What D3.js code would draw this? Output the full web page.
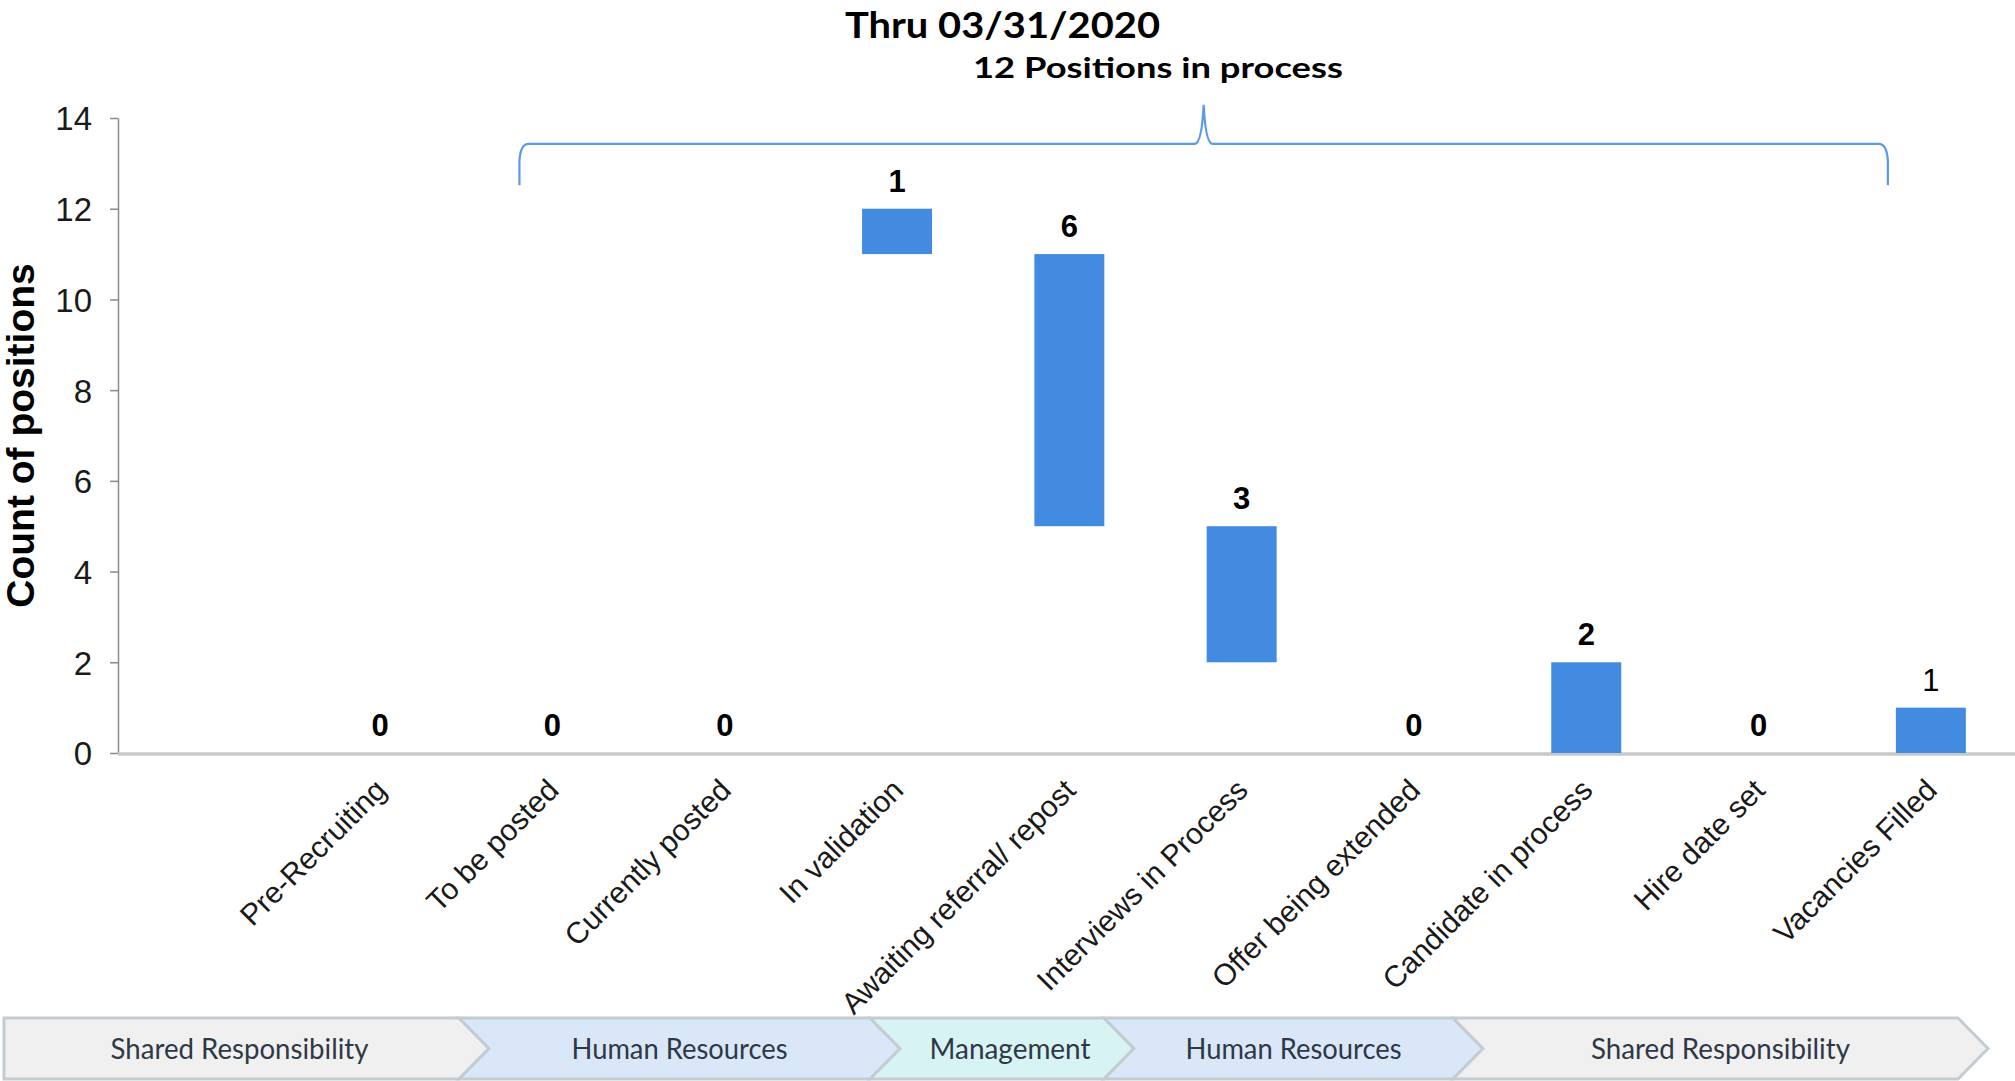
<!DOCTYPE html>
<html>
<head>
<meta charset="utf-8">
<script src="https://cdn.jsdelivr.net/npm/d3@7"></script>
<style>
  html, body { margin: 0; padding: 0; background: #ffffff; }
  svg { display: block; }
</style>
</head>
<body>
<script>
// Recruiting pipeline stages and the count of positions at each stage
const stages = [
  "Pre-Recruiting",
  "To be posted",
  "Currently posted",
  "In validation",
  "Awaiting referral/ repost",
  "Interviews in Process",
  "Offer being extended",
  "Candidate in process",
  "Hire date set",
  "Vacancies Filled"
];
const counts = [0, 0, 0, 1, 6, 3, 0, 2, 0, 1];
// Invisible base under each floating bar
const bases = [0, 0, 0, 11, 5, 2, 0, 0, 0, 0];
const yTicks = [0, 2, 4, 6, 8, 10, 12, 14];

// Who owns each part of the process (left to right)
const owners = ["Shared Responsibility", "Human Resources", "Management", "Human Resources", "Shared Responsibility"];

const titleText = "Thru 03/31/2020";
const subtitleText = "12 Positions in process";
const yLabelText = "Count of positions";

// ---- layout ----
const W = 2015, H = 1081;
const plot = { left: 118, right: 2015, top: 118, bottom: 753 };
const barColor = "#428be0";
const braceColor = "#5b9ae8";

const svg = d3.select("body").append("svg")
  .attr("width", W).attr("height", H)
  .attr("viewBox", `0 0 ${W} ${H}`);

const x = d3.scaleBand()
  .domain(stages)
  .range([294, 2017])
  .paddingInner(0.594)
  .paddingOuter(0.297);

const y = d3.scaleLinear()
  .domain([0, 14])
  .range([plot.bottom, plot.top]);

// ---- y axis ----
const yAxis = svg.append("g")
  .attr("transform", `translate(${plot.left},0)`)
  .call(d3.axisLeft(y).tickValues(yTicks).tickSize(8).tickSizeOuter(0).tickPadding(18));
yAxis.select(".domain").attr("stroke", "#8a8a8a").attr("stroke-width", 1.5);
yAxis.selectAll(".tick line").attr("stroke", "#8a8a8a").attr("stroke-width", 1.5);
yAxis.selectAll(".tick text")
  .attr("font-family", "'Liberation Sans', Arial, sans-serif")
  .attr("font-size", 33)
  .attr("fill", "#1a1a1a")
  .attr("dy", "0.36em");

// y axis title
svg.append("text")
  .attr("transform", `translate(34,${(263 + 608) / 2}) rotate(-90)`)
  .attr("text-anchor", "middle")
  .attr("font-family", "'Liberation Sans', Arial, sans-serif")
  .attr("font-weight", "bold")
  .attr("font-size", 39)
  .attr("fill", "#000")
  .text(yLabelText);

// ---- x axis baseline ----
svg.append("line")
  .attr("x1", plot.left).attr("x2", plot.right)
  .attr("y1", y(0) + 1).attr("y2", y(0) + 1)
  .attr("stroke", "#c8c8c8").attr("stroke-width", 3.5);

// ---- floating bars ----
const rows = stages.map((s, i) => ({ stage: s, count: counts[i], base: bases[i] }));

svg.append("g").selectAll("rect")
  .data(rows.filter(d => d.count > 0))
  .join("rect")
  .attr("x", d => x(d.stage))
  .attr("width", x.bandwidth())
  .attr("y", d => y(d.base + d.count))
  .attr("height", d => y(d.base) - y(d.base + d.count))
  .attr("fill", barColor);

// value labels
svg.append("g").selectAll("text")
  .data(rows)
  .join("text")
  .attr("x", d => x(d.stage) + x.bandwidth() / 2)
  .attr("y", d => y(d.base + d.count) - 17)
  .attr("text-anchor", "middle")
  .attr("font-family", "'Liberation Sans', Arial, sans-serif")
  .attr("font-size", 31)
  .attr("font-weight", (d, i) => i === rows.length - 1 ? "normal" : "bold")
  .attr("fill", "#000")
  .text(d => d.count);

// category labels, rotated
svg.append("g").selectAll("text")
  .data(stages)
  .join("text")
  .attr("transform", d => `translate(${x(d) + x.bandwidth() / 2 + 8},792) rotate(-45)`)
  .attr("text-anchor", "end")
  .attr("font-family", "'Liberation Sans', Arial, sans-serif")
  .attr("font-size", 30)
  .attr("fill", "#1a1a1a")
  .text(d => d);

// ---- titles ----
svg.append("text")
  .attr("x", 845).attr("y", 38)
  .attr("font-family", "Lato, 'Open Sans', sans-serif")
  .attr("font-weight", "bold")
  .attr("font-size", 36)
  .attr("textLength", 315)
  .attr("lengthAdjust", "spacingAndGlyphs")
  .attr("fill", "#000")
  .text(titleText);

svg.append("text")
  .attr("x", 973).attr("y", 78)
  .attr("font-family", "Lato, 'Open Sans', sans-serif")
  .attr("font-weight", "bold")
  .attr("font-size", 29)
  .attr("textLength", 370)
  .attr("lengthAdjust", "spacingAndGlyphs")
  .attr("fill", "#000")
  .text(subtitleText);

// ---- curly brace over the in-process stages ----
const bL = x(stages[1]) + x.bandwidth() / 2 - 33;
const bR = x(stages[stages.length - 1]) + x.bandwidth() / 2 - 43;
const bM = (bL + bR) / 2;
const yArm = y(12.52), yBar = y(13.43), yPeak = y(14.29);
const r = 9;
const brace = d3.path();
brace.moveTo(bL, yArm);
brace.lineTo(bL, yBar + r + 8);
brace.quadraticCurveTo(bL + 1, yBar, bL + r, yBar);
brace.lineTo(bM - 9, yBar);
brace.quadraticCurveTo(bM - 2, yBar, bM, yPeak);
brace.quadraticCurveTo(bM + 2, yBar, bM + 9, yBar);
brace.lineTo(bR - r, yBar);
brace.quadraticCurveTo(bR - 1, yBar, bR, yBar + r + 8);
brace.lineTo(bR, yArm);
svg.append("path")
  .attr("d", brace.toString())
  .attr("fill", "none")
  .attr("stroke", braceColor)
  .attr("stroke-width", 2.2);

// ---- ownership chevrons along the bottom ----
const bandEdges = [4, 459, 870, 1104, 1453, 1958];
const labelWidths = [258, 216, 161, 216, 259];
const ownerFill = {
  "Shared Responsibility": "#f0f0f0",
  "Human Resources": "#dae7f8",
  "Management": "#d8f3f3"
};
const bandTop = 1018, bandBot = 1079, bandMid = (bandTop + bandBot) / 2, tip = 30;

const chev = svg.append("g");
owners.forEach((name, i) => {
  const x0 = bandEdges[i], x1 = bandEdges[i + 1];
  const pts = [[x0, bandTop], [x1, bandTop], [x1 + tip, bandMid], [x1, bandBot], [x0, bandBot]];
  if (i > 0) pts.push([x0 + tip, bandMid]);
  chev.append("polygon")
    .attr("points", pts.map(p => p.join(",")).join(" "))
    .attr("fill", ownerFill[name])
    .attr("stroke", "#c3ccd1")
    .attr("stroke-width", 3)
    .attr("stroke-linejoin", "miter");
  const cx = i === 0 ? (x0 + x1) / 2 + 8 : (x0 + tip + x1) / 2 + (i === 2 ? 8 : 0);
  chev.append("text")
    .attr("x", cx).attr("y", 1059)
    .attr("text-anchor", "middle")
    .attr("font-family", "Lato, 'Open Sans', sans-serif")
    .attr("font-size", 29)
    .attr("textLength", labelWidths[i])
    .attr("lengthAdjust", "spacingAndGlyphs")
    .attr("fill", "#2e3846")
    .text(name);
});
</script>
</body>
</html>
